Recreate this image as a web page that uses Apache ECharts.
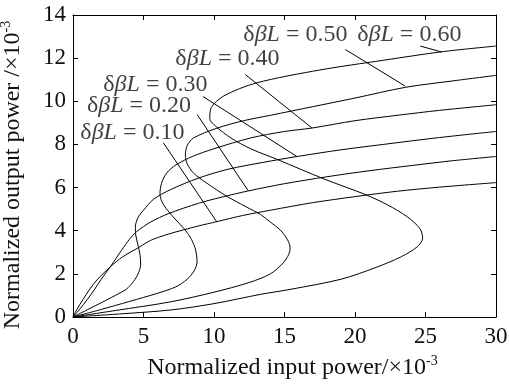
<!DOCTYPE html>
<html><head><meta charset="utf-8">
<script src="https://cdn.jsdelivr.net/npm/echarts@6/dist/echarts.min.js"></script>
<style>html,body{margin:0;padding:0;background:#fff}#c{width:509px;height:385px}</style>
</head><body><div id="c"></div>
<script>
// ---- data ----
const xTicks = [0, 5, 10, 15, 20, 25, 30];
const yTicks = [0, 2, 4, 6, 8, 10, 12, 14];
const xTitle = 'Normalized input power/×10';
const yTitle = 'Normalized output power /×10';
const titleExp = '-3';
const dbl = ['0.10', '0.20', '0.30', '0.40', '0.50', '0.60'];

const c010 = [[0,0],[0.3,0.38],[0.7,0.8],[1.2,1.3],[1.7,1.72],[2.2,2.05],[2.65,2.33],[3.5,2.78],[4.6,3.2],[5.5,3.55],[6.8,3.85],[8.9,4.22],[10.2,4.42],[12,4.7],[14,4.95],[17,5.3],[20,5.58],[23,5.83],[26,6.02],[30,6.23]];
const c020 = [[0,0],[0.5,0.38],[1,0.8],[1.5,1.25],[2,1.75],[2.65,2.33],[3.45,3.1],[4.0,3.6],[4.5,3.95],[5.5,4.4],[6.8,4.8],[8.9,5.27],[10.5,5.55],[12.4,5.84],[15,6.18],[18,6.5],[21,6.78],[24,7.02],[27,7.25],[30,7.44]];
const c030 = [[0,0],[1,0.33],[2,0.66],[3,1.0],[3.8,1.3],[4.3,1.65],[4.65,2.05],[4.8,2.45],[4.75,2.9],[4.6,3.35],[4.45,3.8],[4.42,4.15],[4.6,4.6],[5.0,4.95],[5.7,5.45],[6.9,5.9],[8.9,6.44],[11,6.85],[13.5,7.17],[15.9,7.44],[19,7.75],[22,8.0],[26,8.32],[30,8.6]];
const c040 = [[0,0],[2,0.35],[4,0.72],[6,1.1],[7.3,1.4],[8.1,1.75],[8.6,2.15],[8.8,2.56],[8.7,3.1],[8.4,3.6],[7.96,4.03],[7.3,4.5],[6.7,4.95],[6.3,5.35],[6.17,5.72],[6.28,6.2],[6.64,6.67],[7.3,7.05],[8.5,7.45],[10,7.8],[12.6,8.3],[15,8.6],[16.95,8.76],[20,9.1],[23,9.35],[26,9.58],[30,9.84]];
const c050 = [[0,0],[3,0.3],[6.9,0.7],[10,1.15],[12.5,1.6],[14,2.0],[14.9,2.5],[15.3,2.9],[15.4,3.2],[15.2,3.6],[14.7,4.03],[14,4.4],[13.3,4.75],[12.3,5.1],[10.9,5.6],[9.5,6.2],[8.55,6.67],[8.1,7.1],[7.97,7.5],[8.1,7.95],[8.55,8.3],[10.2,8.75],[12.1,9.1],[14,9.35],[17,9.75],[20,10.15],[23.6,10.65],[27,10.95],[30,11.2]];
const c060 = [[0,0],[3.5,0.15],[7,0.33],[10,0.62],[13.3,1.05],[15.4,1.28],[19,1.75],[21.5,2.3],[23.3,2.8],[24.4,3.25],[24.8,3.65],[24.6,4.1],[23.7,4.65],[22.3,5.2],[20.8,5.66],[17.8,6.4],[14.5,7.3],[12.6,7.8],[11.2,8.3],[10.2,8.8],[9.7,9.2],[9.8,9.7],[10.7,10.25],[13,10.85],[17.5,11.45],[22,11.9],[26.2,12.3],[30,12.56]];
const curves = [c010, c020, c030, c040, c050, c060];

// annotation anchors (data units)
const labelAt = [[0.52,8.54],[0.99,9.8],[2.15,10.78],[7.26,11.99],[12.08,13.1],[20.16,13.1]];
const pointerFrom = [[6.4,8.08],[8.81,9.38],[9.22,10.22],[12.22,11.24],[19.31,12.4],[24.63,12.56]];
const pointerTo = [[10.21,4.40],[12.43,5.85],[15.88,7.44],[16.95,8.76],[23.57,10.7],[26.17,12.28]];

// ---- chart ----
const FONT = 'Liberation Serif';
const TXT = '#111';
const chart = echarts.init(document.getElementById('c'));
const xr = [xTicks[0], xTicks[xTicks.length - 1], xTicks[1] - xTicks[0]];
const yr = [yTicks[0], yTicks[yTicks.length - 1], yTicks[1] - yTicks[0]];
const titleRich = {
  a: { fontFamily: FONT, fontSize: 24, color: TXT, lineHeight: 28 },
  s: { fontFamily: FONT, fontSize: 14, color: TXT, verticalAlign: 'top', lineHeight: 28 }
};
const axisCommon = {
  type: 'value',
  axisLine: { show: true, onZero: false, lineStyle: { color: '#000', width: 1 } },
  axisTick: { show: true, inside: true, length: 5, lineStyle: { color: '#000' } },
  splitLine: { show: false }
};
const series = [];
curves.forEach((c, i) => {
  series.push({
    type: 'line', name: 'c' + i, data: c, showSymbol: false, symbol: 'none', smooth: 0.3,
    lineStyle: { color: '#000', width: 1 }, silent: true, z: 2
  });
});
pointerFrom.forEach((p, i) => {
  series.push({
    type: 'line', data: [p, pointerTo[i]], showSymbol: false, symbol: 'none',
    lineStyle: { color: '#000', width: 1 }, silent: true, z: 3
  });
});
series.push({
  type: 'scatter', symbolSize: 0, silent: true, z: 4,
  data: labelAt.map((p, i) => ({ value: p, name: dbl[i] })),
  label: {
    show: true, position: 'right', distance: 0,
    formatter: p => '{d|δ}{i|βL}{d| = ' + p.name + '}',
    rich: {
      d: { fontFamily: FONT, fontSize: 24, color: TXT },
      i: { fontFamily: FONT, fontSize: 24, color: TXT, fontStyle: 'italic' }
    }
  }
});
chart.setOption({
  animation: false,
  backgroundColor: '#fff',
  grid: { left: 73, right: 13, top: 15, bottom: 68, containLabel: false, outerBoundsMode: 'none' },
  xAxis: [
    Object.assign({}, axisCommon, {
      min: xr[0], max: xr[1], interval: xr[2], position: 'bottom',
      axisLabel: { fontFamily: FONT, fontSize: 23, color: TXT, margin: 8 },
      name: '{a|' + xTitle + '}{s|' + titleExp + '}', nameLocation: 'middle', nameGap: 37,
      nameTextStyle: { rich: titleRich, padding: [0, 0, 0, 16] }
    }),
    Object.assign({}, axisCommon, {
      min: xr[0], max: xr[1], interval: xr[2], position: 'top', axisLabel: { show: false }
    })
  ],
  yAxis: [
    Object.assign({}, axisCommon, {
      min: yr[0], max: yr[1], interval: yr[2], position: 'left',
      axisLabel: { fontFamily: FONT, fontSize: 23, color: TXT, margin: 7 },
      name: '{a|' + yTitle + '}{s|' + titleExp + '}', nameLocation: 'middle', nameGap: 46, nameRotate: 90,
      nameTextStyle: { rich: titleRich, padding: [0, 18, 0, 0] }
    }),
    Object.assign({}, axisCommon, {
      min: yr[0], max: yr[1], interval: yr[2], position: 'right', axisLabel: { show: false }
    })
  ],
  series: series
});
</script>
</body></html>
